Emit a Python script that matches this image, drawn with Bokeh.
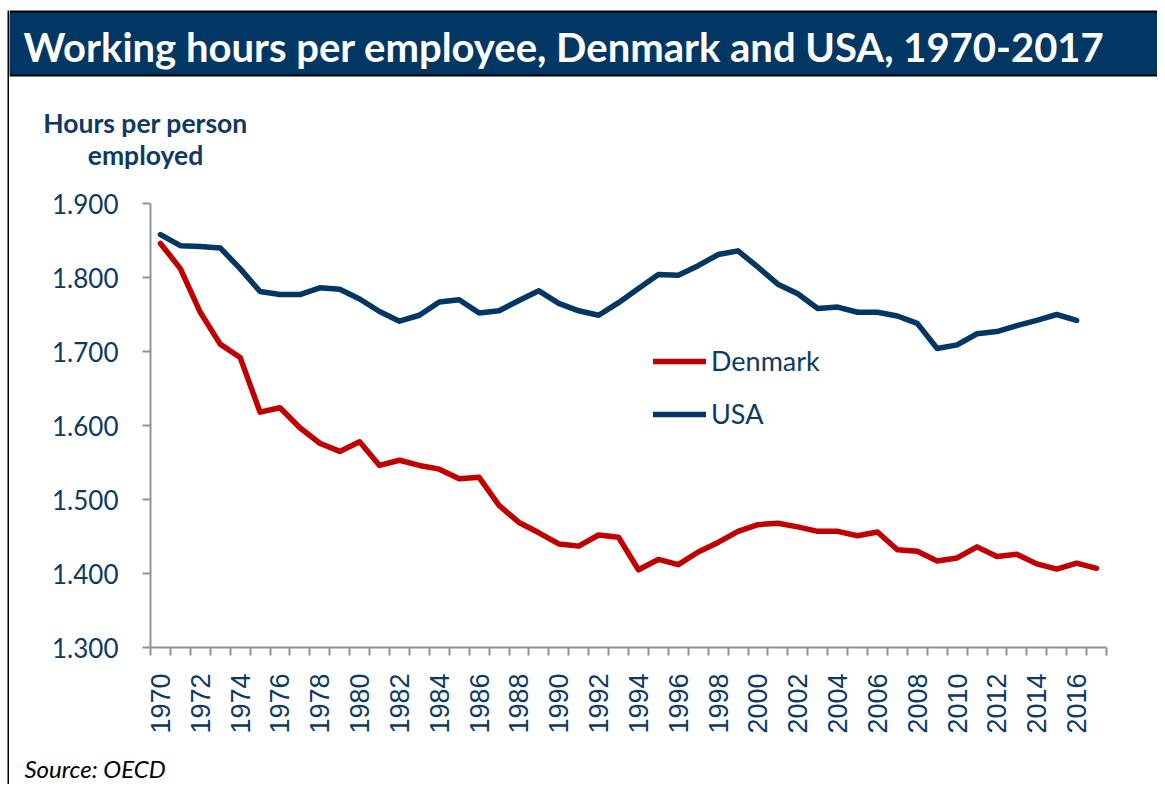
from bokeh.plotting import figure
from bokeh.layouts import column, row
from bokeh.models import FixedTicker, Legend, LegendItem, Range1d, ColumnDataSource
from bokeh.core.properties import value
from bokeh.embed import file_html
from bokeh.resources import INLINE

# ---------------- data ----------------
years = list(range(1970, 2018))
denmark = [1846, 1812, 1753, 1710, 1692, 1618, 1624, 1597, 1576, 1565,
           1578, 1546, 1553, 1546, 1541, 1528, 1530, 1492, 1469, 1455,
           1440, 1437, 1452, 1449, 1405, 1419, 1412, 1429, 1442, 1457,
           1466, 1468, 1463, 1457, 1457, 1451, 1456, 1432, 1430, 1417,
           1421, 1436, 1423, 1426, 1413, 1406, 1414, 1407]
usa_years = list(range(1970, 2017))
usa = [1858, 1843, 1842, 1840, 1812, 1781, 1777, 1777, 1786, 1784,
       1771, 1754, 1741, 1749, 1767, 1770, 1752, 1755, 1769, 1782,
       1765, 1755, 1749, 1766, 1785, 1804, 1803, 1816, 1831, 1836,
       1814, 1791, 1778, 1758, 1760, 1753, 1753, 1748, 1738, 1704,
       1709, 1724, 1727, 1735, 1742, 1750, 1742]
y_ticks = [1300, 1400, 1500, 1600, 1700, 1800, 1900]
y_tick_labels = ["1.300", "1.400", "1.500", "1.600", "1.700", "1.800", "1.900"]
x_label_years = years[::2]

title_text = "Working hours per employee, Denmark and USA, 1970-2017"
y_title_lines = ["Hours per person", "employed"]
source_text = "Source: OECD"

# ---------------- style ----------------
NAVY = "#023763"
RED = "#C00000"
TXT = "#0E3A62"
AXIS = "#8E919E"

W, H = 1157, 784
EDGE_W = 9                 # left strip holding the border line (x 7..9)
CW = W - EDGE_W            # width of the content column
TOP_H = 180                # header strip (title bar + y-axis title)
MID_H = 560                # chart strip
BOT_H = H - TOP_H - MID_H  # source strip


def deco_fig(width, height, fill="white"):
    f = figure(width=width, height=height, output_backend="svg", toolbar_location=None,
               title=None, x_axis_type=None, y_axis_type=None,
               x_range=Range1d(0, width), y_range=Range1d(height, 0),
               min_border=0, outline_line_color=None,
               background_fill_color=fill, border_fill_color=fill)
    f.grid.visible = False
    return f


# ---- left border strip (full height) ----
edge = deco_fig(EDGE_W, H)
edge.quad(left=[7], right=[9], top=[10], bottom=[H], fill_color="black", line_color=None)

# ---- header ----
top = deco_fig(CW, TOP_H)
top.quad(left=[0], right=[CW], top=[10], bottom=[76], fill_color="black", line_color=None)
top.quad(left=[0], right=[CW], top=[12], bottom=[74], fill_color=NAVY, line_color=None)
top.text(x=[23 - EDGE_W], y=[46], text=[title_text], text_color="white", text_font=value("Lato"),
         text_font_style="bold", text_font_size="40px", text_baseline="alphabetic", text_align="left")
top.text(x=[145 - EDGE_W] * 2, y=[122, 154], text=y_title_lines, text_color=TXT, text_font=value("Lato"),
         text_font_style="bold", text_font_size="26.5px", text_baseline="alphabetic", text_align="center")

# ---- chart ----
FL, FR, FT, FB = 150 - EDGE_W, W - 1106, 203 - TOP_H, TOP_H + MID_H - 647
p = figure(width=CW, height=MID_H, output_backend="svg", toolbar_location=None,
           title=None, x_range=Range1d(1969.5, 2017.5), y_range=Range1d(1300, 1900),
           min_border_left=FL, min_border_right=FR, min_border_top=FT, min_border_bottom=FB,
           background_fill_color="white", border_fill_color="white",
           outline_line_color=None)
p.grid.visible = False

r_dk = p.line(x="x", y="y", source=ColumnDataSource(dict(x=years, y=denmark)),
              line_color=RED, line_width=5.5, line_cap="round", line_join="round")
r_us = p.line(x="x", y="y", source=ColumnDataSource(dict(x=usa_years, y=usa)),
              line_color=NAVY, line_width=5.5, line_cap="round", line_join="round")

xa = p.xaxis[0]
xa.ticker = FixedTicker(ticks=x_label_years, minor_ticks=[y - 0.5 for y in years] + [years[-1] + 0.5])
xa.major_label_overrides = {y: str(y) for y in x_label_years}
xa.major_tick_in = 0
xa.major_tick_out = 0
xa.minor_tick_in = 0
xa.minor_tick_out = 8
xa.minor_tick_line_color = AXIS
xa.minor_tick_line_width = 2
xa.axis_line_color = AXIS
xa.axis_line_width = 2
xa.major_label_orientation = 1.5707963267948966
xa.major_label_text_font = "Liberation Sans"
xa.major_label_text_font_size = "27px"
xa.major_label_text_color = TXT
xa.major_label_standoff = 18

ya = p.yaxis[0]
ya.ticker = FixedTicker(ticks=y_ticks)
ya.major_label_overrides = {t: l for t, l in zip(y_ticks, y_tick_labels)}
ya.major_tick_in = 0
ya.major_tick_out = 8
ya.major_tick_line_color = AXIS
ya.major_tick_line_width = 2
ya.minor_tick_line_color = None
ya.axis_line_color = AXIS
ya.axis_line_width = 2
ya.major_label_text_font = "Lato"
ya.major_label_text_font_size = "26px"
ya.major_label_text_color = TXT
ya.major_label_standoff = 24

legend = Legend(items=[LegendItem(label="Denmark", renderers=[r_dk]),
                       LegendItem(label="USA", renderers=[r_us])],
                location=(503, 217), orientation="vertical",
                border_line_color=None, background_fill_alpha=0,
                padding=0, margin=0, glyph_width=53, glyph_height=30,
                label_height=30, spacing=20, label_standoff=5,
                label_text_font="Lato", label_text_font_size="27px",
                label_text_color=TXT)
p.add_layout(legend)

# ---- source strip ----
bot = deco_fig(CW, BOT_H)
bot.text(x=[24 - EDGE_W], y=[28], text=[source_text], text_color="black", text_font=value("Lato"),
         text_font_style="italic", text_font_size="24px", text_baseline="alphabetic", text_align="left")

# p is wrapped in its own row so that the strips above and below keep their full-width frames
layout = row(edge, column(top, row(p, spacing=0), bot, spacing=0), spacing=0)

open("out.html", "w").write(file_html(layout, INLINE))
